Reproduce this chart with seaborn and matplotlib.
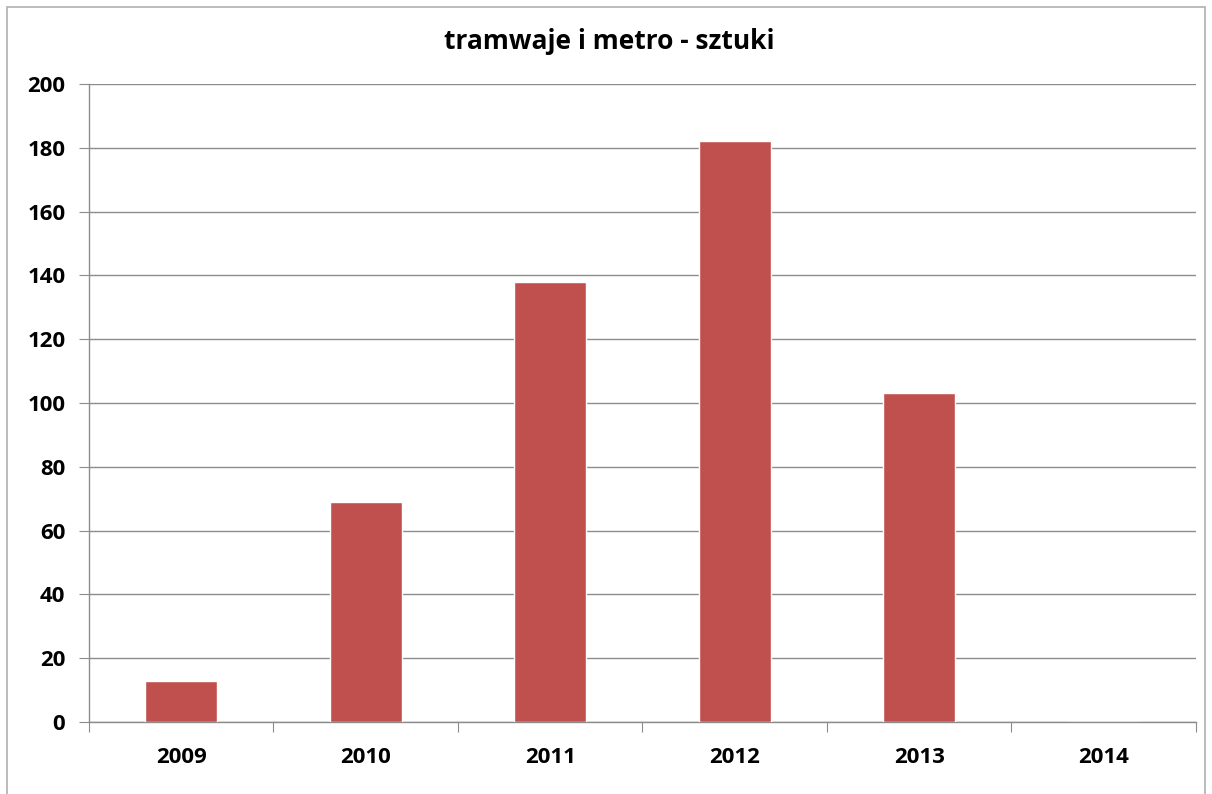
import matplotlib
matplotlib.use("Agg")
import matplotlib.pyplot as plt
import numpy as np
import pandas as pd
import seaborn as sns
from matplotlib.patches import Rectangle

years = ['2009', '2010', '2011', '2012', '2013', '2014']
counts = [13, 69, 138, 182, 103, 0]
title = 'tramwaje i metro - sztuki'

df = pd.DataFrame({'year': years, 'count': counts})

sns.set_style('white')
plt.rcParams['font.family'] = ['Open Sans', 'DejaVu Sans']
plt.rcParams['text.color'] = 'black'
plt.rcParams['xtick.labelcolor'] = 'black'
plt.rcParams['ytick.labelcolor'] = 'black'
grey = '#8c8c8c'

fig = plt.figure(figsize=(12.12, 7.94), dpi=100)
ax = fig.add_axes([0.0734, 0.0907, 0.9134, 0.8035])

sns.barplot(x='year', y='count', data=df, order=years, color='#C0504D',
            saturation=1, width=0.39, ax=ax, zorder=3)

ax.set_ylim(0, 200)
ax.set_yticks(np.arange(0, 201, 20))
ax.set_yticklabels([str(v) for v in range(0, 201, 20)], fontsize=16, fontweight='bold')
ax.yaxis.grid(True, color=grey, linewidth=1)
ax.set_axisbelow(True)

ax.set_xlim(-0.5, len(years) - 0.5)
ax.set_xticks(np.arange(-0.5, len(years), 1))
ax.set_xticklabels([])
ax.set_xticks(range(len(years)), minor=True)
ax.set_xticklabels(years, minor=True, fontsize=16, fontweight='bold')
ax.tick_params(axis='x', which='major', length=7, color=grey, direction='out', bottom=True)
ax.tick_params(axis='x', which='minor', length=0, pad=18)
ax.tick_params(axis='y', length=7, color=grey, direction='out', left=True, pad=10)

for side in ('top', 'right'):
    ax.spines[side].set_visible(False)
for side in ('left', 'bottom'):
    ax.spines[side].set_color(grey)
    ax.spines[side].set_linewidth(1)

ax.set_xlabel('')
ax.set_ylabel('')
fig.text(0.503, 0.948, title, ha='center', va='center', fontsize=19, fontweight='bold')

fig.patches.append(Rectangle((0.006, -0.02), 0.988, 1.011, transform=fig.transFigure,
                             fill=False, edgecolor='#b0b0b0', linewidth=1.2))

plt.savefig('out.png', dpi=100)
